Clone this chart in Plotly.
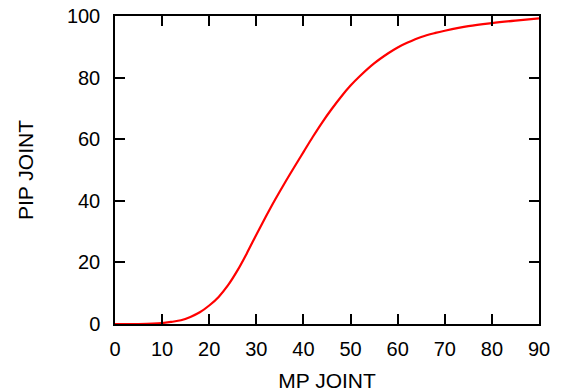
import plotly.graph_objects as go

mp_joint = [0, 5, 8, 10, 12, 14, 16, 18, 20, 22, 24, 26, 28, 30, 32, 34, 36, 38, 40,
            42, 44, 46, 48, 50, 52, 55, 58, 60, 62, 65, 68, 70, 75, 80, 85, 90]
pip_joint = [0, 0, 0.1, 0.3, 0.7, 1.2, 2.3, 3.8, 6.0, 8.8, 12.6, 17.4, 23.0, 29.0, 34.8, 40.4,
             45.7, 50.8, 55.8, 60.8, 65.5, 69.8, 73.8, 77.4, 80.5, 84.6, 87.9, 89.8, 91.3,
             93.2, 94.5, 95.2, 96.7, 97.7, 98.5, 99.2]
x_ticks = [0, 10, 20, 30, 40, 50, 60, 70, 80, 90]
y_ticks = [0, 20, 40, 60, 80, 100]

fig = go.Figure()
fig.add_trace(go.Scatter(x=mp_joint, y=pip_joint, mode="lines",
                         line=dict(color="#ff0000", width=2.2, shape="spline"),
                         showlegend=False, hoverinfo="skip"))

tick_font = dict(family="Liberation Sans, Arial, sans-serif", size=20, color="black")
title_font = dict(family="Liberation Sans, Arial, sans-serif", size=21, color="black")
axis_common = dict(showline=True, linecolor="black", linewidth=1.5, mirror="ticks",
                   ticks="inside", ticklen=10, tickwidth=1.5, tickcolor="black",
                   showgrid=False, zeroline=False, tickfont=tick_font, automargin=False,
                   ticklabeloverflow="allow")

fig.update_layout(
    width=561, height=392,
    margin=dict(l=115, r=22, t=15.5, b=67.5),
    paper_bgcolor="white", plot_bgcolor="white",
    font=tick_font,
    xaxis=dict(range=[0, 90], tickvals=x_ticks, ticklabelstandoff=6,
               title=dict(text="MP JOINT", font=title_font, standoff=16), **axis_common),
    yaxis=dict(range=[0, 100], tickvals=y_ticks, ticklabelstandoff=9,
               title=dict(text="PIP JOINT", font=title_font, standoff=28), **axis_common),
)
fig.write_html("out.html", config={"displayModeBar": False},
               post_script="document.body.style.margin='0';")
